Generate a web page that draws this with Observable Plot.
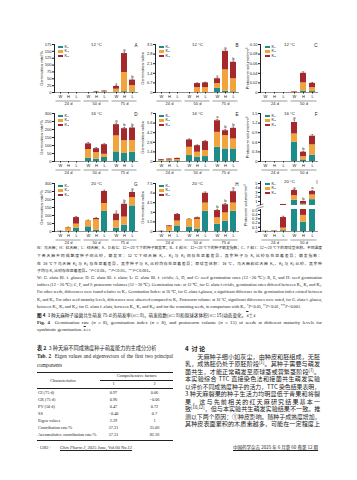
<!DOCTYPE html>
<html><head><meta charset="utf-8">
<script src="https://cdn.jsdelivr.net/npm/d3@7"></script>
<script src="https://cdn.jsdelivr.net/npm/@observablehq/plot@0.6"></script>
<style>
html,body{margin:0;padding:0;background:#fff;}
#page{position:relative;width:357px;height:480px;overflow:hidden;background:#fff;color:#222;}
#page svg{overflow:visible;}
.ln{position:absolute;white-space:nowrap;}
.cn{font-family:"Noto Sans CJK SC","Noto Sans",sans-serif;}
.en{font-family:"Liberation Serif","DejaVu Serif",serif;}
.rule{position:absolute;background:#222;}
sup{font-size:70%;vertical-align:0.45em;line-height:0;}
</style></head>
<body><div id="page"></div>
<script>
// ---------- data ----------
const days = ["24 d", "50 d", "75 d"];
const kinds = ["W", "H", "L"];
const stages = ["K₁", "K₂", "K₃"];
const stageColors = ["#1d8d89", "#f3a33c", "#a5282d"];

// each array: one row per stage (K1,K2,K3), values in order 24d W,H,L | 50d W,H,L | 75d W,H,L
const rateA = [[0,0,0, 0,0.5,1, 2,3,2], [0,0,0, 0,1.5,2, 10,70,23], [0,0,0, 0,1,2, 10,69,20]];
const errA  = [0,0,0, 0,1,1, 3,6,4];
const letA  = ["","","", "","","", "c","a","b"];
const idxB  = [[0,0,0, 0,0,0, 0.3,0.1,0.05], [0,0,0, 0,0.35,0.35, 0.35,1.55,0.95], [0,0,0, 0,0.3,0.35, 0.35,1.35,1.2]];
const errB  = [0,0,0, 0,0.05,0.05, 0.08,0.12,0.1];
const letB  = ["","","", "","","", "c","a","b"];
const volC  = [[0,0,0, 0,0.003,0.002], [0,0,0, 0.001,0.017,0.008], [0,0,0, 0.001,0.02,0.009]];
const errC  = [0,0,0, 0,0.003,0.002];
const letC  = ["","","", "","",""];

const rateD = [[0,0,0, 20,15,25, 60,50,58], [0,0,0, 55,40,20, 100,80,73], [0,0,0, 35,25,60, 70,75,78]];
const errD  = [0,0,0, 8,7,6, 10,8,8];
const letD  = ["","","", "","","", "a","b","b"];
const idxE  = [[0.05,0.08,0.1, 0.87,0.63,0.72, 2.07,1.83,1.83], [0.1,0.15,0.2, 1.2,0.72,0.88, 2.18,1.94,1.45], [0.1,0.12,0.15, 1.07,0.95,1.3, 1.69,0.72,1.55]];
const errE  = [0.02,0.03,0.03, 0.15,0.12,0.15, 0.2,0.2,0.2];
const letE  = ["","","", "","","", "a","b","b"];
const volF  = [[0,0,0, 0.6,0.05,0.2], [0,0,0, 0.26,0.1,0.32], [0,0,0, 0.36,0.14,0.27]];
const errF  = [0,0,0, 0.08,0.03,0.05];
const letF  = ["","","", "a","b",""];

const rateG = [[0.5,2,21, 29,8,125, 21,40,160], [1,23,25, 38,65,50, 46,50,52], [0.5,0,41, 0,8,75, 41,80,32]];
const errG  = [0.5,2,6, 4,5,8, 8,10,10];
const letG  = ["","","", "","","", "c","b","a"];
const idxH  = [[0.02,0.05,0.87, 0.7,0.36,3.16, 1.12,1.63,3.16], [0.02,0.7,0.76, 1.2,1.54,1.28, 1.02,1.27,1.28], [0.01,0.12,1.02, 0,0.24,1.53, 1.13,1.28,1.78]];
const errH  = [0.01,0.05,0.15, 0.1,0.1,0.2, 0.2,0.2,0.25];
const letH  = ["","","", "","","", "b","b","a"];
const volI  = [[0.004,0.005,0.02, 1.3,0.22,1.4], [0.003,0.008,0.06, 1.0,0.16,1.05], [0.003,0.007,0.25, 1.15,0.62,0.8]];
const errI  = [0,0,0.03, 0.2,0.05,0.2];
const letI  = ["","","", "a","b","a"];

const ticksRate12 = [0,25,50,75,100,125,150,175];
const ticksRate = [0,50,100,150,200,250,300];
const ticksIdx12 = [0,0.7,1.4,2.1,2.8,3.5];
const ticksIdx16 = [0,1.4,2.8,4.2,5.6,7.0];
const ticksIdx20 = [0,1.5,3.0,4.5,6.0,7.5];
const ticksVol12 = [0,0.02,0.04,0.06,0.08,0.10];
const ticksVol16 = [0,0.3,0.6,0.9,1.2,1.5];
const ticksVol20hi = [1,2,3,4,5];
const ticksVol20lo = [0,0.1,0.2,0.3,0.4,0.5];

const temps = ["12 °C", "16 °C", "20 °C"];
const yLabels = ["Germination rate/%", "Germination index", "Protocorm volume/mm³"];

// ---------- layout ----------
const page = document.getElementById("page");
const colGeom = [{left:35, width:106, ml:18}, {left:136, width:106, ml:18}, {left:240, width:80, ml:20}];
const rowTop = [36, 105, 175];

function build(vals, groups) {
  const rows = [];
  stages.forEach((s, si) => groups.forEach((d, gi) => kinds.forEach((k, ki) =>
    rows.push({day: d, kind: k, stage: s, value: vals[si][gi * 3 + ki]}))));
  return rows;
}
function tops(vals, err, lets, groups) {
  const out = [];
  groups.forEach((d, gi) => kinds.forEach((k, ki) => {
    const i = gi * 3 + ki;
    const t = vals[0][i] + vals[1][i] + vals[2][i];
    out.push({day: d, kind: k, total: t, err: err[i], top: t + err[i], letter: lets[i]});
  }));
  return out;
}
const fmt0 = d => d === 0 ? "0" : (Number.isInteger(d) ? String(d) : d.toFixed(1));
const fmt2 = d => d === 0 ? "0" : d.toFixed(2);

function panel(cfg) {
  const {vals, err, lets, groups, domain, ticks, fmt, label = null, title, letter,
         left, top, width, ml, height = 71, mt = 8, mb = 15, xAxes = true, keep = null, clip = false} = cfg;
  const data = build(vals, groups);
  let tt = tops(vals, err, lets, groups);
  if (keep) tt = tt.filter(keep);
  const last = groups[groups.length - 1];
  const marks = [
    Plot.barY(data, {fx: "day", x: "kind", y: "value", fill: "stage", clip}),
    Plot.ruleX(tt.filter(d => d.err > 0), {fx: "day", x: "kind", y1: "total", y2: "top", stroke: "#222", strokeWidth: 0.4, clip}),
    Plot.tickY(tt.filter(d => d.err > 0), {fx: "day", x: "kind", y: "top", stroke: "#222", strokeWidth: 0.4, insetLeft: 1.7, insetRight: 1.7, clip}),
    Plot.text(tt.filter(d => d.letter), {fx: "day", x: "kind", y: "top", text: "letter", dy: -2.4, fontSize: 4.2, fill: "#222"})
  ];
  if (xAxes) {
    marks.push(Plot.ruleY([domain[0]], {stroke: "#222", strokeWidth: 0.5}));
    marks.push(Plot.ruleY([domain[0]], {stroke: "#222", strokeWidth: 0.45, dy: 8.5, insetLeft: 1.5, insetRight: 1.5}));
  }
  if (title) marks.push(Plot.text([title], {fx: () => groups.length === 3 ? groups[1] : groups[0],
      frameAnchor: groups.length === 3 ? "top" : "top-right", textAnchor: "middle", dy: -2, fontSize: 4.4, fill: "#222"}));
  if (letter) marks.push(Plot.text([letter], {fx: () => last, frameAnchor: "top-right", textAnchor: "end", dx: -1, dy: -1, fontSize: 4.6, fill: "#222"}));
  const fig = Plot.plot({
    width, height, marginTop: mt, marginBottom: mb, marginLeft: ml, marginRight: 2,
    style: {background: "transparent", fontFamily: "'Liberation Sans', Arial, sans-serif", fontSize: "4px", color: "#222", overflow: "visible"},
    fx: {domain: groups, padding: 0, label: null, axis: xAxes ? "bottom" : null, tickSize: 0, tickPadding: 10},
    x: {domain: kinds, paddingInner: 0.3, paddingOuter: 0.25, label: null, axis: xAxes ? "bottom" : null, tickSize: 1.5, tickPadding: 1},
    y: {domain, ticks, tickFormat: fmt, tickSize: 2, tickPadding: 1, label, labelAnchor: "center", labelOffset: 14, labelArrow: "none", line: true, axis: "left"},
    color: {domain: stages, range: stageColors},
    marks
  });
  fig.style.position = "absolute";
  fig.style.left = left + "px";
  fig.style.top = top + "px";
  page.appendChild(fig);
  return fig;
}

function legend(x, y) {
  stages.forEach((s, i) => {
    const sw = document.createElement("div");
    sw.style.cssText = `position:absolute;left:${x}px;top:${y + i * 4.7}px;width:5px;height:2.6px;background:${stageColors[i]};`;
    page.appendChild(sw);
    const t = document.createElement("div");
    t.className = "ln";
    t.style.cssText += `left:${x + 6.5}px;top:${y + i * 4.7 - 1}px;font:4px/4.2px 'Liberation Sans',Arial,sans-serif;color:#222;`;
    t.textContent = s;
    page.appendChild(t);
  });
}

const panels = [
  [ {vals: rateA, err: errA, lets: letA, domain: [0,175], ticks: ticksRate12, fmt: fmt0, letter: "A"},
    {vals: idxB, err: errB, lets: letB, domain: [0,3.5], ticks: ticksIdx12, fmt: fmt0, letter: "B"},
    {vals: volC, err: errC, lets: letC, domain: [0,0.1], ticks: ticksVol12, fmt: fmt2, letter: "C"} ],
  [ {vals: rateD, err: errD, lets: letD, domain: [0,300], ticks: ticksRate, fmt: fmt0, letter: "D"},
    {vals: idxE, err: errE, lets: letE, domain: [0,7], ticks: ticksIdx16, fmt: fmt0, letter: "E"},
    {vals: volF, err: errF, lets: letF, domain: [0,1.5], ticks: ticksVol16, fmt: fmt0, letter: "F"} ],
  [ {vals: rateG, err: errG, lets: letG, domain: [0,300], ticks: ticksRate, fmt: fmt0, letter: "G"},
    {vals: idxH, err: errH, lets: letH, domain: [0,7.5], ticks: ticksIdx20, fmt: fmt0, letter: "H"} ]
];

panels.forEach((row, r) => row.forEach((p, c) => {
  const g = colGeom[c];
  panel({...p, groups: c === 2 ? days.slice(0, 2) : days, label: yLabels[c], title: temps[r],
         left: g.left, top: rowTop[r], width: g.width, ml: g.ml});
  legend(g.left + g.ml + 5, rowTop[r] + 9.5);
}));

// Panel I with broken axis: upper and lower part
{
  const g = colGeom[2];
  panel({vals: volI, err: errI, lets: letI, groups: days.slice(0, 2), domain: [0.1, 5.45], ticks: ticksVol20hi,
         fmt: d => String(d), title: temps[2], letter: "I", left: g.left, top: 173, width: g.width, ml: g.ml,
         height: 32, mt: 8, mb: 0, xAxes: false, keep: d => d.top > 0.55, clip: true});
  panel({vals: volI, err: errI, lets: letI, groups: days.slice(0, 2), domain: [0, 0.52], ticks: ticksVol20lo,
         fmt: fmt0, left: g.left, top: 204, width: g.width, ml: g.ml,
         height: 42, mt: 5, mb: 15, keep: d => d.top <= 0.55, clip: true});
  legend(g.left + g.ml + 5, 173 + 9.5);
  const lab = document.createElement("div");
  lab.className = "ln";
  lab.style.cssText += "left:226px;top:204px;width:40px;text-align:center;font:4px/4.2px 'Liberation Sans',Arial,sans-serif;color:#222;transform:rotate(-90deg);transform-origin:center;";
  lab.textContent = yLabels[2];
  page.appendChild(lab);
  const brk = document.createElementNS("http://www.w3.org/2000/svg", "svg");
  brk.setAttribute("width", "10"); brk.setAttribute("height", "8");
  brk.style.cssText = "position:absolute;left:255px;top:202.5px;";
  brk.innerHTML = '<rect x="0" y="2.2" width="10" height="2.2" fill="#fff"/><line x1="1.5" y1="3" x2="8.5" y2="1" stroke="#222" stroke-width="0.5"/><line x1="1.5" y1="5.6" x2="8.5" y2="3.6" stroke="#222" stroke-width="0.5"/>';
  page.appendChild(brk);
}

// ---------- text ----------
function line(html, x, yc, w, fs, cls, opts = {}) {
  const d = document.createElement("div");
  d.className = "ln " + cls;
  d.innerHTML = html;
  d.style.left = x + "px";
  d.style.top = (yc - fs * 0.52) + "px";
  d.style.fontSize = fs + "px";
  d.style.lineHeight = (fs * 1.04) + "px";
  if (w) d.style.width = w + "px";
  if (opts.bold) d.style.fontWeight = "bold";
  if (opts.align) d.style.textAlign = opts.align;
  if (opts.justify) { d.style.textAlign = "justify"; d.style.textAlignLast = "justify"; }
  if (opts.underline) d.style.textDecoration = "underline";
  page.appendChild(d);
  if (w) { let f = fs; while (d.scrollWidth > w + 0.5 && f > 2) { f -= 0.05; d.style.fontSize = f + "px"; } }
  return d;
}

const capCn = [
  "W：乌天麻；H：红天麻；L：绿天麻；A、D 和 G：12～20 ℃下的种子萌发率；B、E 和 H：12～20 ℃下的种子萌发指数；C、F 和 I：12～20 ℃下的原球茎体积。不同温度",
  "下各天麻不同成熟度种子间比较，萌发率：12 ℃下绿天麻 K₁、K₂ 与 K₃ 间存在显著差异，其余种子与 K₁ 比较存在显著差异；萌发指数：",
  "在 16 ℃下乌天麻 K₂ 与 K₃ 存在显著差异，其余种子与 K₁ 比较均存在显著差异；原球茎体积：16 ℃，乌天麻和红天麻 K₁、K₂ 与 K₃ 比较，其余种",
  "子均与 K₁ 比较存在显著差异。<sup>*</sup><i>P</i>＜0.05，<sup>**</sup><i>P</i>＜0.01，<sup>***</sup><i>P</i>＜0.001。"
];
const capEn = [
  "W: <i>G. elata</i> Bl. f. <i>glauca</i>; H: <i>G. elata</i> Bl. f. <i>elata</i>; L: <i>G. elata</i> Bl. f. <i>viridis</i>; A, D, and G: seed germination rates (12－20 ℃); B, E, and H: seed germination",
  "indices (12－20 ℃); C, F, and I: protocorm volumes (12－20 ℃). Germination rate: at 12 ℃, for <i>G. elata</i> f.<i>viridis</i>, germination rates differed between K₁, K₂ and K₃.",
  "For other seeds, differences were found relative to K₁. Germination Index: at 16 ℃, for <i>G. elata</i> f.<i>glauca</i>, a significant difference in the germination index existed between",
  "K₂ and K₃. For other seed maturity levels, differences were observed compared to K₁. Protocorm volume: at 16 ℃, significant differences were noted, for <i>G. elata</i> f. <i>glauca</i>,",
  "between K₁, K₂ and K₃; for <i>G. elata</i> f. <i>elata</i>, between K₁, K₂ and K₃; and for the remaining seeds, in comparison with K₁. <sup>*</sup><i>P</i>&lt;0.05, <sup>**</sup><i>P</i>&lt;0.01, <sup>***</sup><i>P</i>&lt;0.001."
];
const capStep = 7.45;
capCn.forEach((t, i) => line(t, 37, 248 + i * capStep, i < 3 ? 285 : 0, 3.9, "cn", {justify: i < 3}));
capEn.forEach((t, i) => line(t, 37, 248 + (i + 4) * capStep, i < 4 ? 285 : 0, 4.3, "en", {justify: i < 4}));
line("<b>图 4</b>&nbsp;&nbsp;3 种天麻种子接菌共生萌发 75 d 的萌发率(<i>n</i>＝8)，萌发指数(<i>n</i>＝8)和原球茎体积(<i>n</i>＝15)动态变化，<span style='text-decoration:overline'><i>x</i></span>±<i>s</i>", 37, 248 + 9 * capStep, 0, 4.6, "cn");
line("<b>Fig. 4</b>&nbsp;&nbsp;Germination rate (<i>n</i>＝8), germination index (<i>n</i>＝8), and protocorm volume (<i>n</i>＝15) of seeds at different maturity levels for", 37, 248 + 10 * capStep, 285, 4.9, "en", {justify: true});
line("symbiotic germination. <span style='text-decoration:overline'><i>x</i></span>±<i>s</i>", 37, 248 + 11 * capStep, 0, 4.9, "en");

// table 2
const tabRows = [
  ["GI (75 d)", "0.97", "0.06"],
  ["GR (75 d)", "0.96", "−0.06"],
  ["PV (50 d)", "0.47", "0.72"],
  ["SS", "−0.40", "0.7"],
  ["Eigen values", "2.29", "1"],
  ["Contribution rate/%", "57.31", "25.06"],
  ["Accumulative contribution rate/%", "57.31", "82.36"]
];
const tabCols = ["1", "2"];
line("<b>表 2</b>&nbsp;&nbsp;3 种天麻不同成熟度种子萌发能力的主成分分析", 37, 348, 0, 5.2, "cn");
line("<b>Tab. 2</b>&nbsp;&nbsp;Eigen values and eigenvectors of the first two principal", 37, 357, 136, 5.2, "en", {justify: true});
line("components", 37, 366, 0, 5.2, "en");
function hr(x, y, w, h) { const d = document.createElement("div"); d.className = "rule"; d.style.cssText += `left:${x}px;top:${y}px;width:${w}px;height:${h}px;`; page.appendChild(d); }
hr(37, 371.5, 136, 0.8);
line("Comprehensive factors", 100, 376.5, 73, 4.3, "en", {align: "center"});
hr(100, 380.3, 73, 0.4);
line("Characteristics", 37, 381.5, 52, 4.3, "en", {align: "center"});
line(tabCols[0], 100, 384.5, 27, 4.3, "en", {align: "center"});
line(tabCols[1], 141, 384.5, 27, 4.3, "en", {align: "center"});
hr(37, 388, 136, 0.6);
tabRows.forEach((r, i) => {
  const y = 393.5 + i * 7;
  line(r[0], 38, y, 0, 4.3, "en");
  line(r[1], 100, y, 27, 4.3, "en", {align: "center"});
  line(r[2], 141, y, 27, 4.3, "en", {align: "center"});
});
hr(37, 440, 136, 0.8);
line("· 1282 ·", 37, 448, 0, 4.5, "en");
line("<i>Chin Pharm J</i>, 2025 June, Vol.60 No.12", 60, 448, 0, 4.5, "en", {underline: true});

// discussion
line("<b>4&nbsp;&nbsp;讨&nbsp;论</b>", 185, 349, 0, 6.2, "cn");
const disc = [
  "　　天麻种子细小如灰尘，由种皮和胚组成，无胚",
  "乳，成熟胚仍处于原胚阶段<sup>[1]</sup>。其种子需要与萌发",
  "菌共生，才能正常萌发至原球茎或营繁茎阶段<sup>[7]</sup>。",
  "本实验综合 TTC 直接染色法和接菌共生萌发实验",
  "以评价不同成熟度种子的活力，TTC 染色结果表明，",
  "3 种天麻裂果的种子生活力均明显低于青果和将裂",
  "果，这与先前相关的红天麻研究结果基本一",
  "致<sup>[10,12]</sup>，但与本实验共生萌发实验结果不一致。推",
  "测以下两个原因：①种皮影响。随种子成熟度增加，",
  "其种皮表面累积的木质素越多，可能在一定程度上"
];
disc.forEach((t, i) => line(t, 185, 357 + i * 7.5, 135, 6.1, "cn", {justify: true}));
line("中国药学杂志 2025 年 6 月第 60 卷第 12 期", 233, 447, 85, 4.5, "cn", {underline: true, justify: true});
</script>
</body></html>
